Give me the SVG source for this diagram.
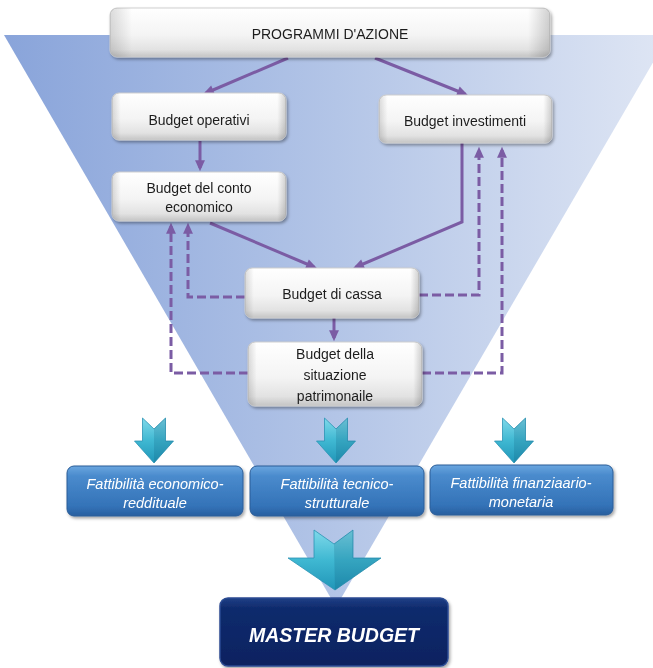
<svg xmlns="http://www.w3.org/2000/svg" width="653" height="668" viewBox="0 0 653 668">
  <defs>
    <linearGradient id="funnelGrad" x1="0" y1="0" x2="1" y2="0">
      <stop offset="0" stop-color="#89a4da"/>
      <stop offset="0.5" stop-color="#b3c5e7"/>
      <stop offset="1" stop-color="#dfe6f4"/>
    </linearGradient>
    <linearGradient id="greyFill" x1="0" y1="0" x2="0" y2="1">
      <stop offset="0" stop-color="#ffffff"/>
      <stop offset="0.55" stop-color="#f4f4f4"/>
      <stop offset="0.85" stop-color="#e2e2e2"/>
      <stop offset="1" stop-color="#c4c4c4"/>
    </linearGradient>
    <linearGradient id="greySides" x1="0" y1="0" x2="1" y2="0">
      <stop offset="0" stop-color="#000" stop-opacity="0.14"/>
      <stop offset="0.05" stop-color="#000" stop-opacity="0"/>
      <stop offset="0.95" stop-color="#000" stop-opacity="0"/>
      <stop offset="1" stop-color="#000" stop-opacity="0.18"/>
    </linearGradient>
    <linearGradient id="blueFill" x1="0" y1="0" x2="0" y2="1">
      <stop offset="0" stop-color="#6aa6df"/>
      <stop offset="0.2" stop-color="#4a8bcd"/>
      <stop offset="0.8" stop-color="#3473b8"/>
      <stop offset="1" stop-color="#285f9f"/>
    </linearGradient>
    <linearGradient id="navyFill" x1="0" y1="0" x2="0" y2="1">
      <stop offset="0" stop-color="#1f3f86"/>
      <stop offset="0.15" stop-color="#0f2b6d"/>
      <stop offset="1" stop-color="#0a2260"/>
    </linearGradient>
    <linearGradient id="cyanFill" x1="0" y1="0" x2="0" y2="1">
      <stop offset="0" stop-color="#7fd9ea"/>
      <stop offset="0.5" stop-color="#3fb8d2"/>
      <stop offset="1" stop-color="#2196b8"/>
    </linearGradient>
    <filter id="shadow" x="-10%" y="-20%" width="125%" height="150%">
      <feDropShadow dx="1.5" dy="2" stdDeviation="1.6" flood-color="#000" flood-opacity="0.35"/>
    </filter>
    <marker id="arrowHead" viewBox="0 0 10 10" refX="7" refY="5" markerWidth="12" markerHeight="11" markerUnits="userSpaceOnUse" orient="auto">
      <path d="M0,0.5 L10,5 L0,9.5 z" fill="#7b5ca4"/>
    </marker>
    <style>
      .grey-box { fill: url(#greyFill); stroke: #cfcfcf; stroke-width: 1; }
      .grey-edge { fill: url(#greySides); }
      .blue-box { fill: url(#blueFill); stroke: #2a5c98; stroke-width: 1; }
      .grey-text { font-family: "Liberation Sans", Arial, sans-serif; font-size: 14px; fill: #1e1e1e; text-anchor: middle; }
      .blue-text { font-family: "Liberation Sans", Arial, sans-serif; font-size: 14.5px; font-style: italic; fill: #ffffff; text-anchor: middle; }
      .master-text { font-family: "Liberation Sans", Arial, sans-serif; font-size: 19.5px; font-weight: bold; font-style: italic; fill: #ffffff; text-anchor: middle; }
      .link { fill: none; stroke: #7b5ca4; stroke-width: 3; marker-end: url(#arrowHead); }
      .dashed { stroke-dasharray: 9 4; }
      .chevron { fill: url(#cyanFill); stroke: #2b93b4; stroke-width: 0.8; }
      .chevron-shade { fill: #0b4f6e; fill-opacity: 0.18; }
    </style>
  </defs>

  <!-- funnel backdrop -->
  <polygon id="funnel" points="4,35 669,35 336,607" fill="url(#funnelGrad)"/>

  <!-- connectors -->
  <g id="connectors">
    <path class="link" d="M288,58 L206,93"/>
    <path class="link" d="M375,58 L465,94"/>
    <path class="link" d="M200,141 L200,168"/>
    <path class="link" d="M462,143 L462,222 L356,267"/>
    <path class="link" d="M210,223 L314,267"/>
    <path class="link" d="M334,318 L334,338"/>
    <path class="link dashed" d="M245,297 L188,297 L188,226"/>
    <path class="link dashed" d="M248,373 L171,373 L171,226"/>
    <path class="link dashed" d="M419,295 L479,295 L479,150"/>
    <path class="link dashed" d="M422,373 L502,373 L502,150"/>
  </g>

  <g id="programmi" filter="url(#shadow)">
    <rect class="grey-box" x="110" y="8" width="440" height="49" rx="7"/>
    <rect class="grey-edge" x="110" y="8" width="440" height="49" rx="7"/>
    <text class="grey-text" x="330" y="39">PROGRAMMI D'AZIONE</text>
  </g>

  <g id="budget-operativi" filter="url(#shadow)">
    <rect class="grey-box" x="112" y="93" width="174" height="47" rx="7"/>
    <rect class="grey-edge" x="112" y="93" width="174" height="47" rx="7"/>
    <text class="grey-text" x="199" y="125">Budget operativi</text>
  </g>

  <g id="budget-investimenti" filter="url(#shadow)">
    <rect class="grey-box" x="379" y="95" width="173" height="48" rx="7"/>
    <rect class="grey-edge" x="379" y="95" width="173" height="48" rx="7"/>
    <text class="grey-text" x="465" y="126">Budget investimenti</text>
  </g>

  <g id="budget-conto-economico" filter="url(#shadow)">
    <rect class="grey-box" x="112" y="172" width="174" height="49" rx="7"/>
    <rect class="grey-edge" x="112" y="172" width="174" height="49" rx="7"/>
    <text class="grey-text" x="199" y="193">Budget del conto</text>
    <text class="grey-text" x="199" y="212">economico</text>
  </g>

  <g id="budget-cassa" filter="url(#shadow)">
    <rect class="grey-box" x="245" y="268" width="174" height="50" rx="7"/>
    <rect class="grey-edge" x="245" y="268" width="174" height="50" rx="7"/>
    <text class="grey-text" x="332" y="299">Budget di cassa</text>
  </g>

  <g id="budget-situazione-patrimoniale" filter="url(#shadow)">
    <rect class="grey-box" x="248" y="342" width="174" height="64" rx="7"/>
    <rect class="grey-edge" x="248" y="342" width="174" height="64" rx="7"/>
    <text class="grey-text" x="335" y="359">Budget della</text>
    <text class="grey-text" x="335" y="380">situazione</text>
    <text class="grey-text" x="335" y="401">patrimonaile</text>
  </g>

  <!-- feasibility arrows -->
  <g id="chevron-economico">
    <polygon class="chevron" points="142.5,418 154,429 165.5,418 165.5,441 173.5,441 154,463 134.5,441 142.5,441"/>
    <polygon class="chevron-shade" points="154,429 165.5,418 165.5,441 173.5,441 154,463"/>
  </g>
  <g id="chevron-tecnico">
    <polygon class="chevron" points="324.5,418 336,429 347.5,418 347.5,441 355.5,441 336,463 316.5,441 324.5,441"/>
    <polygon class="chevron-shade" points="336,429 347.5,418 347.5,441 355.5,441 336,463"/>
  </g>
  <g id="chevron-finanziario">
    <polygon class="chevron" points="502.5,418 514,429 525.5,418 525.5,441 533.5,441 514,463 494.5,441 502.5,441"/>
    <polygon class="chevron-shade" points="514,429 525.5,418 525.5,441 533.5,441 514,463"/>
  </g>

  <g id="fattibilita-economico" filter="url(#shadow)">
    <rect class="blue-box" x="67" y="466" width="176" height="50" rx="7"/>
    <text class="blue-text" x="155" y="489">Fattibilità economico-</text>
    <text class="blue-text" x="155" y="508">reddituale</text>
  </g>

  <g id="fattibilita-tecnico" filter="url(#shadow)">
    <rect class="blue-box" x="250" y="466" width="174" height="50" rx="7"/>
    <text class="blue-text" x="337" y="489">Fattibilità tecnico-</text>
    <text class="blue-text" x="337" y="508">strutturale</text>
  </g>

  <g id="fattibilita-finanziario" filter="url(#shadow)">
    <rect class="blue-box" x="430" y="465" width="183" height="50" rx="7"/>
    <text class="blue-text" x="521" y="488">Fattibilità finanziaario-</text>
    <text class="blue-text" x="521" y="507">monetaria</text>
  </g>

  <!-- big arrow into the master budget -->
  <g id="chevron-master">
    <polygon class="chevron" points="314,530 334,544 353,530 353,558 381,558 335,590 288,558 314,558"/>
    <polygon class="chevron-shade" points="334,544 353,530 353,558 381,558 335,590"/>
  </g>

  <g id="master-budget" filter="url(#shadow)">
    <rect x="220" y="598" width="228" height="68" rx="8" fill="url(#navyFill)" stroke="#2c4b92" stroke-width="1.5"/>
    <text class="master-text" x="334" y="642">MASTER BUDGET</text>
  </g>
</svg>
